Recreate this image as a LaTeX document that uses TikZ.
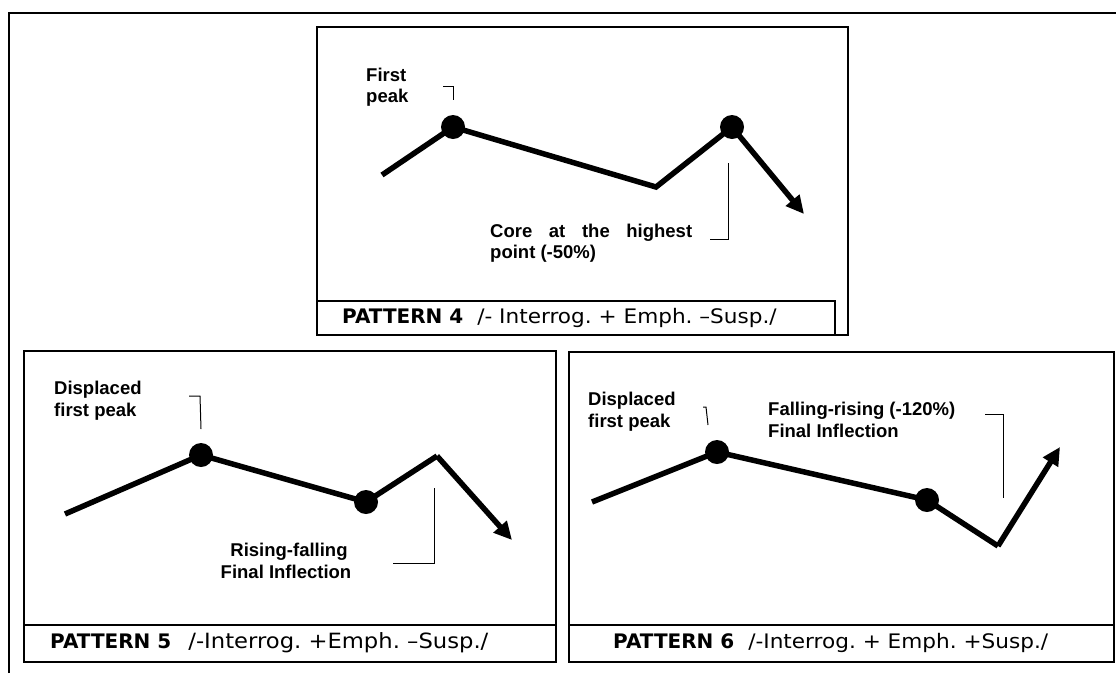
\documentclass[tikz,border=0pt]{standalone}
\usepackage{fontspec}
\setmainfont{Liberation Sans}
\newfontfamily\capfont[FakeStretch=1.08]{DejaVu Sans}
\newfontfamily\capbold{DejaVu Sans Bold}
\usetikzlibrary{arrows.meta}
\frenchspacing
\begin{document}
\begin{tikzpicture}[x=1pt,y=-1pt,
  contour/.style={line width=5.5pt, line join=miter},
  tipped/.style={-{Triangle[length=18pt,width=17pt]}},
  dot/.style={circle, fill=black, inner sep=0pt, minimum size=24pt},
  panel/.style={draw, line width=1.6pt},
  lead/.style={line width=1pt},
  lbl/.style={font=\fontsize{18.5}{22}\selectfont\bfseries, inner sep=0pt, anchor=base west},
  lblc/.style={lbl, anchor=base},
  captext/.style={font=\capfont\fontsize{20}{24}\selectfont, inner sep=0pt, anchor=west}]
\useasboundingbox (0,0) rectangle (1116,673);
\fill[white] (0,0) rectangle (1116,673);
% outer frame
\draw[line width=2pt] (9,673) -- (9,13) -- (1116,13);

% ---------- Pattern 4 ----------
\draw[panel] (317,27) rectangle (848,335);
\draw[panel] (317,301) rectangle (835,335);
\node[captext] (c4) at (342,318) {{\capbold PATTERN 4\ \ }/- Interrog. + Emph. –Susp./};
\coordinate (p4s) at (382,175);
\coordinate (p4a) at (453,127);
\coordinate (p4v) at (656,187);
\coordinate (p4b) at (732,127);
\coordinate (p4e) at (804,214);
\draw[contour] (p4s) -- (p4a) -- (p4v) -- (p4b);
\draw[contour, tipped] (p4b) -- (p4e);
\node[dot] (d4a) at (p4a) {};
\node[dot] (d4b) at (p4b) {};
\node[lbl] (t4a1) at (366,81) {First};
\node[lbl] (t4a2) at (366,102) {peak};
\coordinate (b4a1) at (443,86);
\coordinate (b4a2) at (453,86);
\coordinate (b4a3) at (453,100);
\draw[lead] (b4a1) -- (b4a2) -- (b4a3);
\node[lbl] (t4b1) at (490,237) {\makebox[202pt][s]{Core\hfill at\hfill the\hfill highest}};
\node[lbl] (t4b2) at (490,258) {point (-50\%)};
\coordinate (b4b1) at (728,163);
\coordinate (b4b2) at (728,239);
\coordinate (b4b3) at (710,239);
\draw[lead] (b4b1) -- (b4b2) -- (b4b3);

% ---------- Pattern 5 ----------
\draw[panel] (24,351) rectangle (556,662);
\draw[panel] (24,625) rectangle (556,662);
\node[captext] (c5) at (50,643) {{\capbold PATTERN 5}\hspace{17pt}{\fontsize{21}{24}\selectfont /-Interrog. +Emph. –Susp./}};
\coordinate (p5s) at (65,514);
\coordinate (p5a) at (201,455);
\coordinate (p5b) at (366,502);
\coordinate (p5p) at (437,456);
\coordinate (p5e) at (512,540);
\draw[contour] (p5s) -- (p5a) -- (p5b) -- (p5p);
\draw[contour, tipped] (p5p) -- (p5e);
\node[dot] (d5a) at (p5a) {};
\node[dot] (d5b) at (p5b) {};
\node[lbl] (t5a1) at (54,394) {Displaced};
\node[lbl] (t5a2) at (54,416) {first peak};
\coordinate (b5a1) at (189,396);
\coordinate (b5a2) at (200,396);
\coordinate (b5a3) at (201,429);
\draw[lead] (b5a1) -- (b5a2) -- (b5a3);
\node[lblc] (t5b1) at (289,556) {Rising-falling};
\node[lblc] (t5b2) at (286,578) {Final Inflection};
\coordinate (b5b1) at (434,488);
\coordinate (b5b2) at (434,563);
\coordinate (b5b3) at (393,563);
\draw[lead] (b5b1) -- (b5b2) -- (b5b3);

% ---------- Pattern 6 ----------
\draw[panel] (569,352) rectangle (1114,662);
\draw[panel] (569,625) rectangle (1114,662);
\node[captext] (c6) at (613,643) {{\capbold PATTERN 6\ \ }/-Interrog. + Emph. +Susp./};
\coordinate (p6s) at (592,502);
\coordinate (p6a) at (717,452);
\coordinate (p6b) at (927,500);
\coordinate (p6v) at (998,546);
\coordinate (p6e) at (1060,447);
\draw[contour] (p6s) -- (p6a) -- (p6b) -- (p6v);
\draw[contour, tipped] (p6v) -- (p6e);
\node[dot] (d6a) at (p6a) {};
\node[dot] (d6b) at (p6b) {};
\node[lbl] (t6a1) at (588,405) {Displaced};
\node[lbl] (t6a2) at (588,427) {first peak};
\coordinate (b6a1) at (703,407);
\coordinate (b6a2) at (706,407);
\coordinate (b6a3) at (708,425);
\draw[lead] (b6a1) -- (b6a2) -- (b6a3);
\node[lbl] (t6b1) at (768,415) {Falling-rising (-120\%)};
\node[lbl] (t6b2) at (768,437) {Final Inflection};
\coordinate (b6b1) at (985,414);
\coordinate (b6b2) at (1003,414);
\coordinate (b6b3) at (1003,498);
\draw[lead] (b6b1) -- (b6b2) -- (b6b3);
\end{tikzpicture}
\end{document}
